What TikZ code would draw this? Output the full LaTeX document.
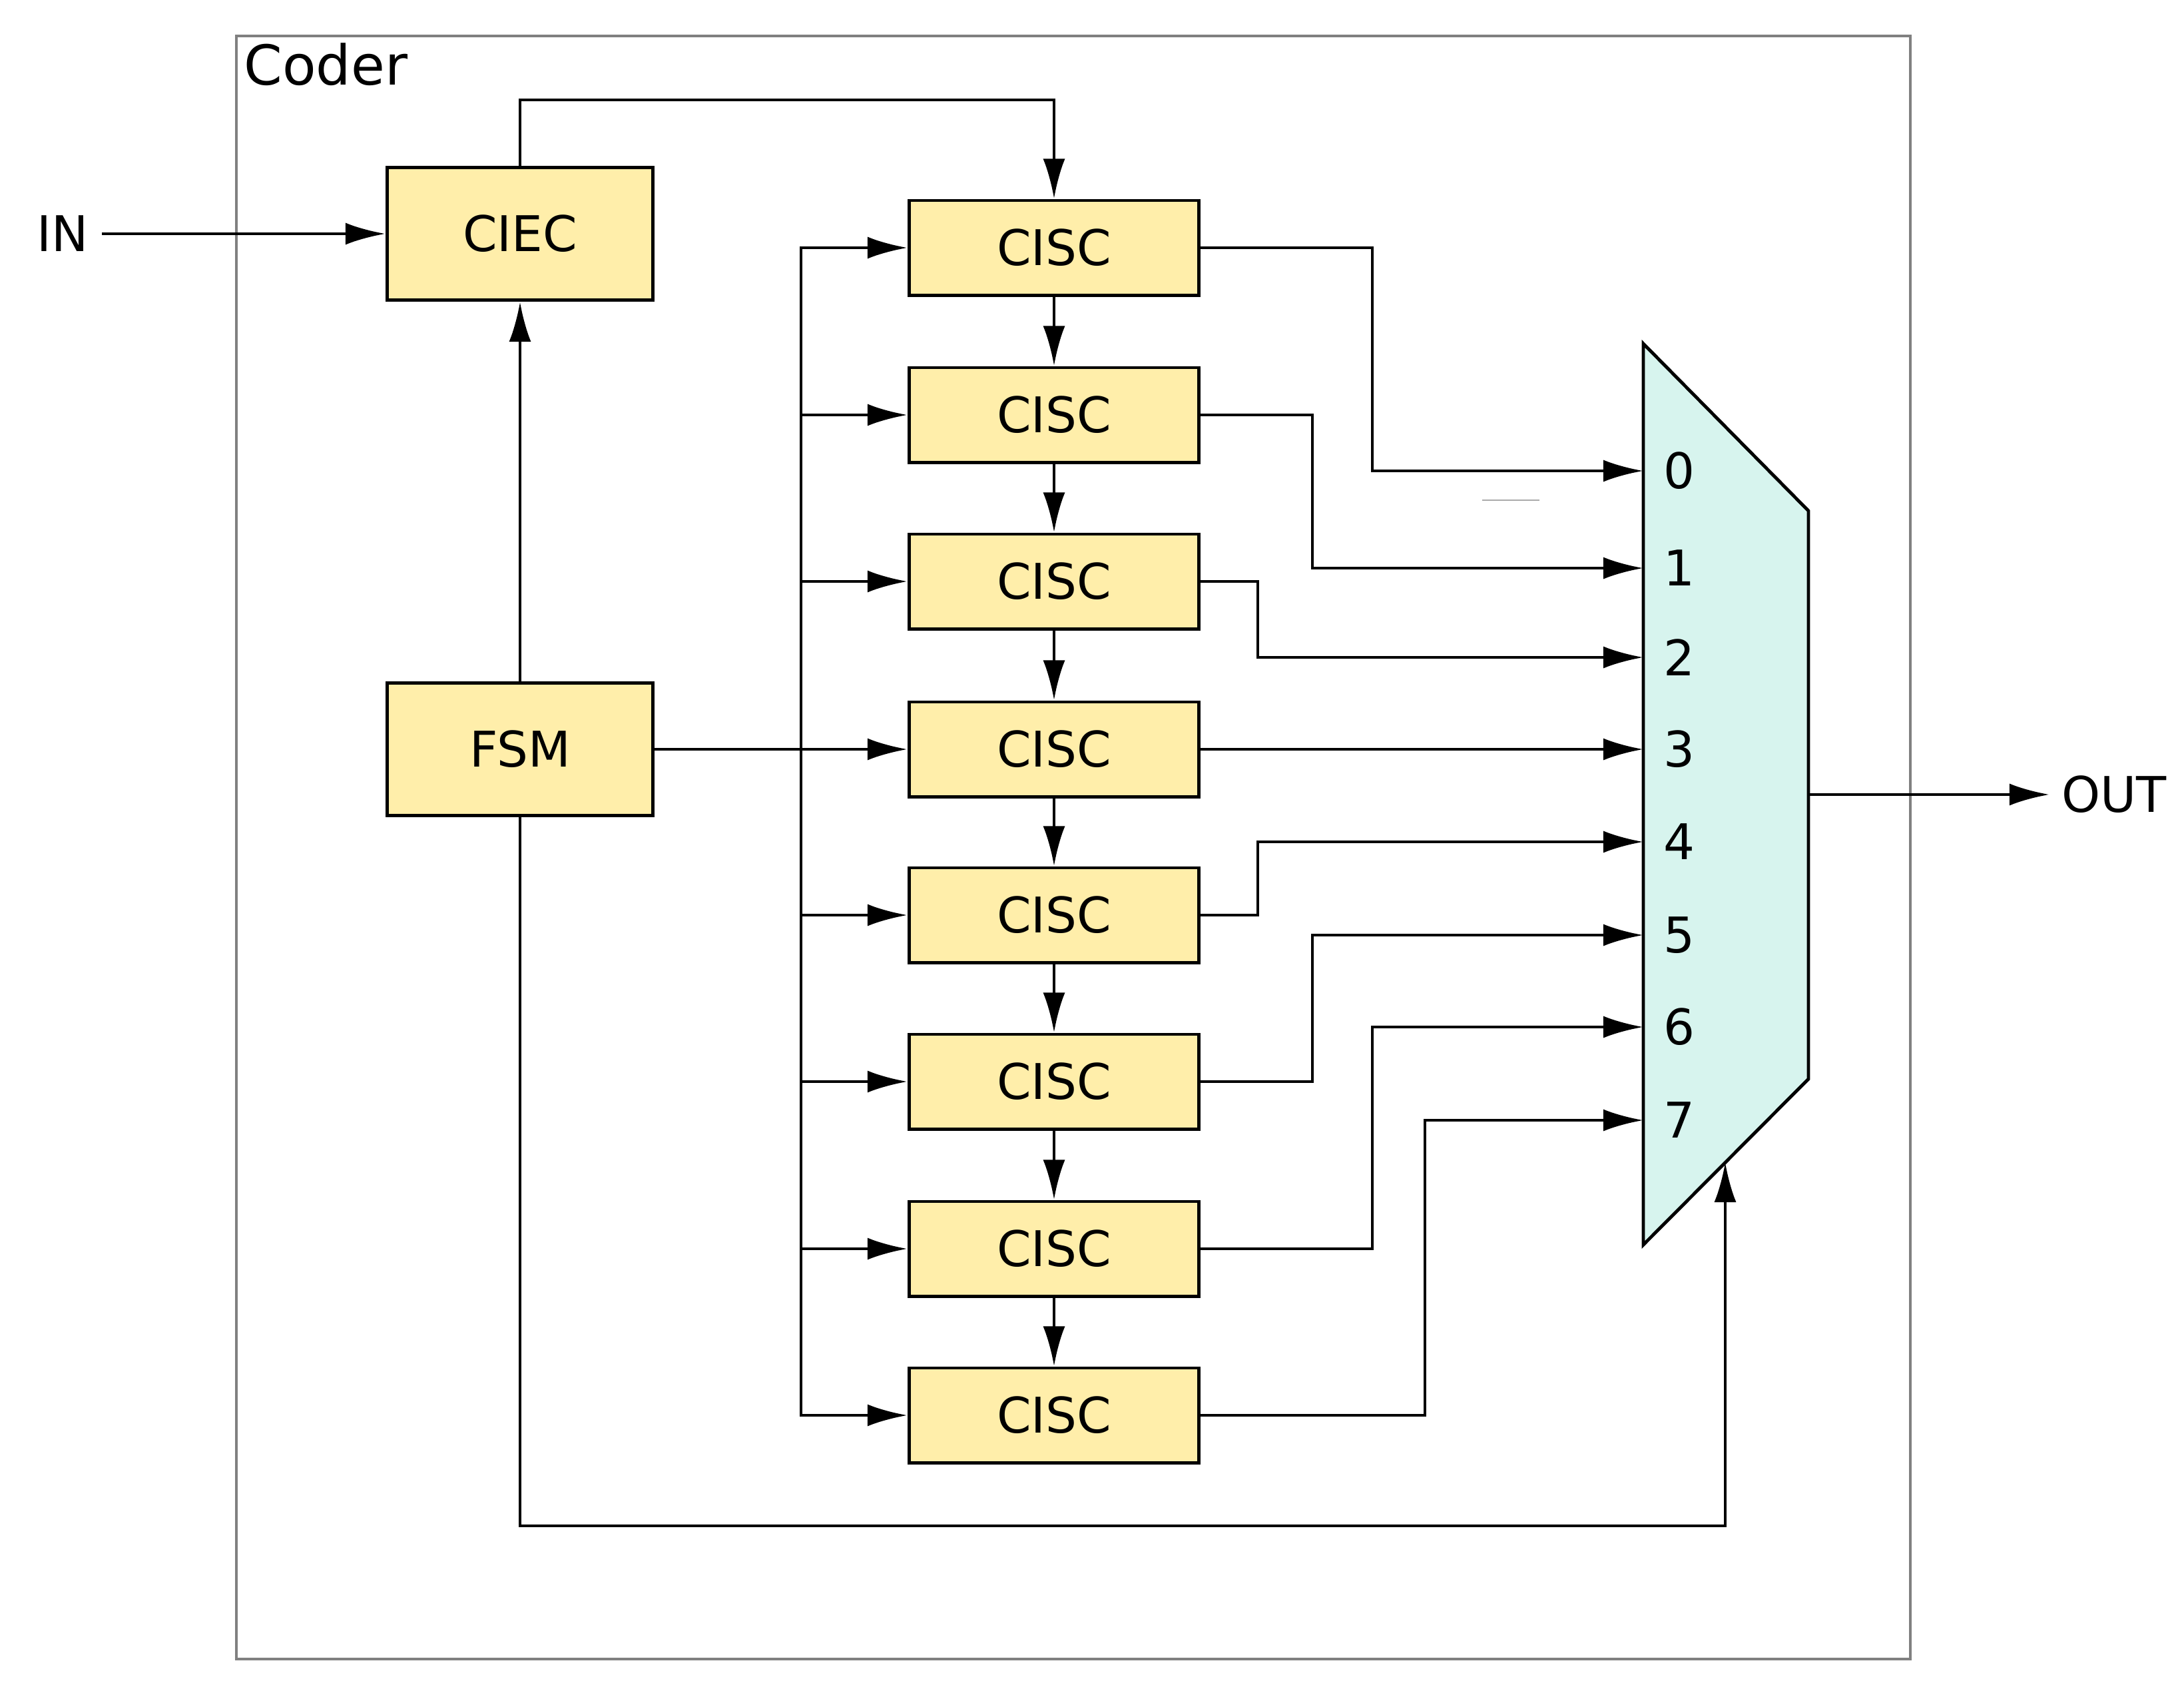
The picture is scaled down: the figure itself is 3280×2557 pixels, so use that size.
\documentclass[tikz,border=0pt]{standalone}
\usepackage{fontspec}
\setmainfont{DejaVu Sans}
\usetikzlibrary{arrows.meta}
\definecolor{boxyellow}{HTML}{FFEEAA}
\definecolor{muxcyan}{HTML}{D7F4EE}
\definecolor{framegray}{HTML}{808080}
\definecolor{faintgray}{HTML}{AAAAAA}
\begin{document}
\begin{tikzpicture}[x=0.01cm,y=-0.01cm,
  wire/.style={line width=1.4pt},
  arr/.style={wire,-{Latex[length=0.6cm,width=0.33cm]}},
  blockbox/.style={draw,line width=1.4pt,fill=boxyellow,inner sep=0pt,font=\fontsize{21}{25}\selectfont},
  ciscbox/.style={blockbox,minimum width=4.35cm,minimum height=1.42cm},
  bigbox/.style={blockbox,minimum width=3.99cm,minimum height=1.99cm},
  lbl/.style={font=\fontsize{21}{25}\selectfont,inner sep=0pt}]
\useasboundingbox (0,0) rectangle (3280,2557);
% frame
\draw[framegray,line width=1.2pt] (355,54) rectangle (2869,2491);
\node[anchor=base west,font=\fontsize{23.5}{28}\selectfont,inner sep=0pt] (coder) at (366,127) {Coder};
% blocks
\node[bigbox] (ciec) at (781,351) {CIEC};
\node[bigbox] (fsm) at (781,1125) {FSM};
\foreach \i/\y in {1/372,2/623,3/873,4/1125,5/1374,6/1624,7/1875,8/2125}
  \node[ciscbox] (c\i) at (1583,\y) {CISC};
% mux
\coordinate (mtl) at (2468,516);
\coordinate (mtr) at (2716,767);
\coordinate (mbr) at (2716,1620);
\coordinate (mbl) at (2468,1869);
\filldraw[fill=muxcyan,line width=1.4pt] (mtl) -- (mtr) -- (mbr) -- (mbl) -- cycle;
\foreach \k/\y in {0/707,1/853,2/987,3/1125,4/1264,5/1404,6/1542,7/1682}{
  \coordinate (m\k) at (2468,\y);
  \node[lbl] (d\k) at (2522,\y) {\k};
}
\coordinate (msel) at (2591,1745);
\coordinate (selc) at (2591,2291);
\coordinate (mout) at (2716,1193);
% IN / OUT
\node[lbl] (in) at (94,351) {IN};
\draw[arr] ([xshift=0.2cm]in.east) -- (ciec.west);
\node[lbl,anchor=west] (out) at (3096,1193) {OUT};
\draw[arr] (mout) -- ([xshift=-0.18cm]out.west);
% CIEC -> first CISC
\coordinate (topy) at (0,150);
\draw[arr] (ciec.north) -- (ciec.north |- topy) -| (c1.north);
% FSM connections
\draw[arr] (fsm.north) -- (ciec.south);
\draw[arr] (fsm.east) -- (c4.west);
\draw[arr] (fsm.south) |- (selc) -- (msel);
% bus
\coordinate (busx) at (1203,0);
\draw[arr] (c4.west -| busx) |- (c1.west);
\draw[arr] (c4.west -| busx) |- (c8.west);
\foreach \i in {2,3,5,6,7}
  \draw[arr] (c\i.west -| busx) -- (c\i.west);
% chain
\foreach \i/\j in {1/2,2/3,3/4,4/5,5/6,6/7,7/8}
  \draw[arr] (c\i.south) -- (c\j.north);
% outputs to mux
\coordinate (r1) at (2061,0);
\coordinate (r2) at (1971,0);
\coordinate (r3) at (1889,0);
\coordinate (r4) at (2140,0);
\draw[arr] (c1.east) -| (r1 |- m0) -- (m0);
\draw[arr] (c2.east) -| (r2 |- m1) -- (m1);
\draw[arr] (c3.east) -| (r3 |- m2) -- (m2);
\draw[arr] (c4.east) -- (m3);
\draw[arr] (c5.east) -| (r3 |- m4) -- (m4);
\draw[arr] (c6.east) -| (r2 |- m5) -- (m5);
\draw[arr] (c7.east) -| (r1 |- m6) -- (m6);
\draw[arr] (c8.east) -| (r4 |- m7) -- (m7);
% faint stray line
\draw[faintgray,line width=0.6pt] (2226,751) -- (2312,751);
\end{tikzpicture}
\end{document}
